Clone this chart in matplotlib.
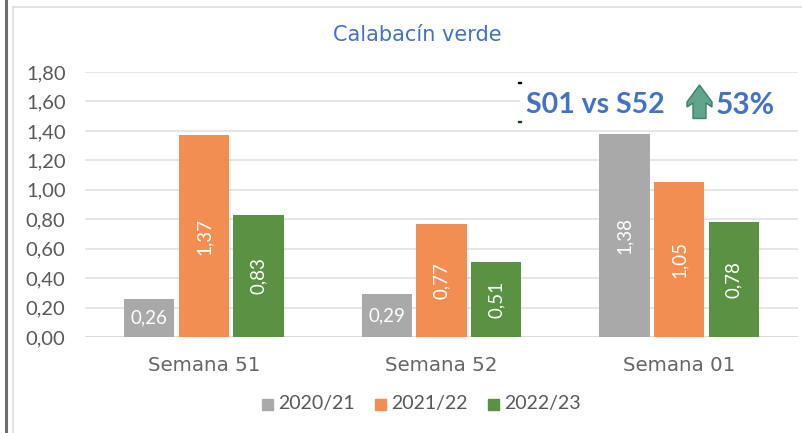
#!/usr/bin/env python3
import matplotlib
matplotlib.use('Agg')
import matplotlib.pyplot as plt
import numpy as np

from matplotlib.lines import Line2D
from matplotlib.patches import Polygon, Rectangle

weeks = ['Semana 51', 'Semana 52', 'Semana 01']
seasons = ['2020/21', '2021/22', '2022/23']
v_2020 = [0.26, 0.29, 1.38]
v_2021 = [1.37, 0.77, 1.05]
v_2022 = [0.83, 0.51, 0.78]
yticks = [0.0, 0.2, 0.4, 0.6, 0.8, 1.0, 1.2, 1.4, 1.6, 1.8]
title = 'Calabacín verde'
note = 'S01 vs S52'
note_pct = '53%'

W, H = 802, 433
GREY = '#595959'
BLUE = '#4472C4'

plt.rcParams['font.family'] = ['Lato', 'DejaVu Sans']

def fx(x):
    return x / W

def fy(y):
    return 1 - y / H

def comma(v):
    return ('%.2f' % v).replace('.', ',')

fig = plt.figure(figsize=(W / 100, H / 100), dpi=100)
ax = fig.add_axes([fx(85), fy(337), (798 - 85) / W, (337 - 72) / H])

x = np.arange(len(weeks))
colors = ['#A9A9A9', '#F28E52', '#5B9142']
for i, (vals, c) in enumerate(zip([v_2020, v_2021, v_2022], colors)):
    bars = ax.bar(x + (i - 1) * 0.23, vals, 0.212, color=c, zorder=3)
    for b, v in zip(bars, vals):
        ax.text(b.get_x() + b.get_width() / 2, v / 2, comma(v), color='white',
                fontsize=13.5, ha='center', va='center', zorder=4,
                rotation=0 if v < 0.4 else 90)

ax.set_xlim(-0.5, 2.5)
ax.set_ylim(0, 1.8)
ax.set_yticks(yticks)
ax.set_yticklabels([comma(v) for v in yticks], fontsize=14.5, color=GREY)
ax.set_xticks(x)
ax.set_xticklabels(weeks, fontsize=14.3, color='#666666', family=['DejaVu Sans'])
ax.tick_params(length=0)
ax.tick_params(axis='y', pad=14)
ax.tick_params(axis='x', pad=14)
ax.grid(axis='y', color='#E2E2E2', lw=1.2, zorder=0)
ax.set_axisbelow(True)
for s in ax.spines.values():
    s.set_visible(False)
ax.axhline(0, color='#D9D9D9', lw=1.2, zorder=2)

# outer frame of the pasted chart
fig.add_artist(Line2D([fx(6), fx(6)], [0, 1], color='#6E6E6E', lw=2.2))
fig.add_artist(Line2D([fx(13), fx(13)], [0, fy(7)], color='#E4E4E4', lw=1.5))
fig.add_artist(Line2D([fx(13), 1], [fy(7), fy(7)], color='#DEDEDE', lw=1.2))

fig.text(fx(417), fy(35), title, color=BLUE, fontsize=15, ha='center', va='center',
         family=['DejaVu Sans'])

# note box that hides the 1,60 gridline
fig.add_artist(Rectangle((fx(520), fy(122)), fx(280), 38 / H, color='white', zorder=5))
fig.add_artist(Rectangle((fx(518), fy(83)), fx(3), 1.5 / H, color='black', zorder=6))
fig.add_artist(Rectangle((fx(518), fy(122)), fx(3), 1.5 / H, color='#1E3A1E', zorder=6))
fig.text(fx(526), fy(105), note, color=BLUE, fontsize=20.5, fontweight='bold',
         ha='left', va='center', zorder=7)
fig.text(fx(716), fy(105), note_pct, color=BLUE, fontsize=21.5, fontweight='bold',
         ha='left', va='center', zorder=7)
arrow = [(699.5, 85), (712, 102), (712, 107), (706, 103), (706, 118.5),
         (693, 118.5), (693, 103), (687, 107), (687, 102)]
fig.add_artist(Polygon([(fx(a), fy(b)) for a, b in arrow], closed=True,
                       facecolor='#5FA58C', edgecolor='#3E7F68', lw=1, zorder=7))

# legend
for name, c, lx in zip(seasons, colors, [262, 375, 488]):
    fig.add_artist(Rectangle((fx(lx), fy(410)), 11 / W, 11 / H, color=c))
    fig.text(fx(lx + 16), fy(404), name, color=GREY, fontsize=14, ha='left', va='center')

fig.savefig('out.png', dpi=100)
